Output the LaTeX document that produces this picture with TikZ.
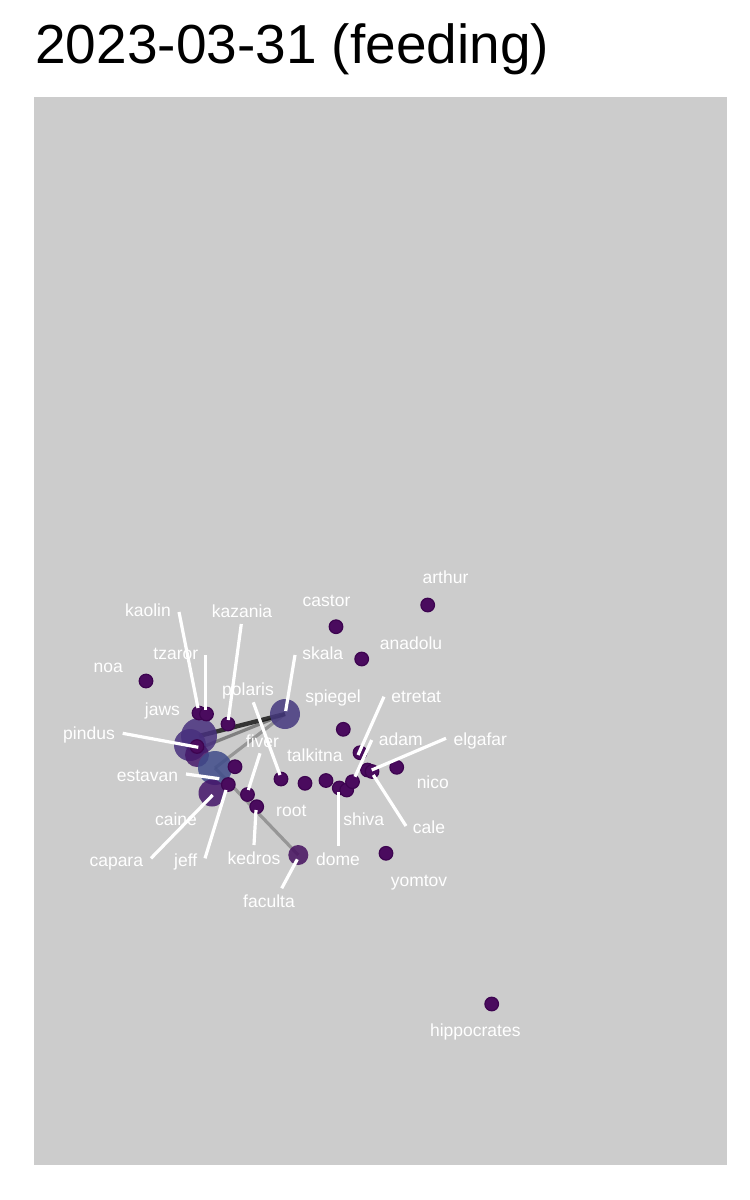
\documentclass[tikz,border=0pt]{standalone}
\usepackage{fontspec}
\setmainfont{Liberation Sans}
\definecolor{panelgray}{HTML}{CCCCCC}
\definecolor{nsmall}{HTML}{4A0B5E}
\definecolor{nsmallb}{HTML}{3D0450}
\definecolor{cpindus}{HTML}{48307E}
\definecolor{cpindusb}{HTML}{45196A}
\definecolor{cspiegel}{HTML}{46397F}
\definecolor{cestavan}{HTML}{3F4B8A}
\definecolor{ccaine}{HTML}{44156A}
\definecolor{cfaculta}{HTML}{46105F}
\tikzset{
  sm/.style={circle, fill=nsmall, draw=nsmallb, line width=0.6pt, minimum size=6.8pt, inner sep=0pt},
  bignode/.style 2 args={circle, fill=#1, fill opacity=0.85, draw=none, minimum size=#2, inner sep=0pt},
  lbl/.style={text=white, font=\fontsize{8.75}{10}\selectfont, anchor=base, inner sep=0pt},
  seg/.style={white, line width=1.6pt},
  edgedark/.style={black, opacity=0.75, line width=2.2pt},
  edgemid/.style={black!70, opacity=0.6, line width=1.6pt},
  edgelight/.style={black!55, opacity=0.6, line width=1.6pt}
}
\begin{document}
\begin{tikzpicture}[x=0.5pt,y=-0.5pt]
\useasboundingbox (0,0) rectangle (750,1200);
\fill[white] (0,0) rectangle (750,1200);
\fill[panelgray] (34,97) rectangle (727,1165);
\node[anchor=base west, inner sep=0pt, font=\fontsize{27.5}{32}\selectfont] (title) at (35,63) {2023-03-31 (feeding)};

% node coordinates
\coordinate (pSpiegel) at (285,714);
\coordinate (pPindus) at (199,736);
\coordinate (pPindus2) at (200,748);
\coordinate (pEstavan) at (215,768);
\coordinate (pFaculta) at (298.3,855);

% edges
\draw[edgelight] (pEstavan) -- (pFaculta);
\draw[edgelight] (pEstavan) -- (pSpiegel);
\draw[edgemid] (pPindus2) -- (pSpiegel);
\draw[edgedark] (pPindus) -- (pSpiegel);

% big nodes
\node[bignode={cspiegel}{15pt}] (spiegel) at (pSpiegel) {};
\node[bignode={cpindus}{18pt}] (pindusA) at (pPindus) {};
\node[bignode={cpindus}{16pt}] (pindusC) at (190,745) {};
\node[bignode={cpindusb}{12pt}] (pindusB) at (197,755) {};
\node[bignode={cestavan}{17pt}] (estavan) at (pEstavan) {};
\node[bignode={ccaine}{13.5pt}] (caine) at (212,793) {};
\node[bignode={cfaculta}{10pt}] (faculta) at (pFaculta) {};

% small nodes
\node[sm] (arthur) at (427.7,605) {};
\node[sm] (castor) at (336,626.7) {};
\node[sm] (anadolu) at (361.7,659) {};
\node[sm] (noa) at (146,681) {};
\node[sm] (kaolin) at (199,713) {};
\node[sm] (tzaror) at (206.5,714) {};
\node[sm] (kazania) at (228,724) {};
\node[sm] (nsp) at (343.3,729.3) {};
\node[sm] (etretat) at (360,752.7) {};
\node[sm] (pindus) at (197,746.5) {};
\node[sm] (ne1) at (235,766.7) {};
\node[sm] (jeff) at (228.3,784.5) {};
\node[sm] (fiver) at (247.5,794.5) {};
\node[sm] (kedros) at (256.7,806.7) {};
\node[sm] (polaris) at (281,779) {};
\node[sm] (nr1) at (305,783.3) {};
\node[sm] (nr2) at (326,780.5) {};
\node[sm] (dome) at (339.3,788) {};
\node[sm] (shiva) at (346.7,790) {};
\node[sm] (adam) at (352.5,781.7) {};
\node[sm] (elgafar) at (367.5,770) {};
\node[sm] (cale) at (372,771.5) {};
\node[sm] (nico) at (396.7,767.3) {};
\node[sm] (yomtov) at (386,853.3) {};
\node[sm] (hippocrates) at (491.7,1004) {};

% label segment start points
\coordinate (sKaolin) at (179,612);
\coordinate (sTzaror) at (205.7,655);
\coordinate (sKazania) at (241.3,624);
\coordinate (sSkala) at (295,655);
\coordinate (sPolaris) at (253.3,702.3);
\coordinate (sPindus) at (122.7,733.3);
\coordinate (sEstavan) at (186,774);
\coordinate (sFiver) at (260,753.3);
\coordinate (sCapara) at (151,858.3);
\coordinate (sJeff) at (205,858.3);
\coordinate (sKedros) at (254,845);
\coordinate (sFaculta) at (281.7,888.3);
\coordinate (sEtretat) at (384,696.7);
\coordinate (sAdam) at (371.7,740);
\coordinate (sElgafar) at (446,738.3);
\coordinate (sCale) at (406,826);
\coordinate (sDome) at (338.3,846);
% segment end points
\coordinate (eKaolin) at (198,708);
\coordinate (eTzaror) at (205.7,710);
\coordinate (eKazania) at (228.3,720);
\coordinate (eSkala) at (285.7,711);
\coordinate (ePolaris) at (280,775);
\coordinate (ePindus) at (198.3,747.3);
\coordinate (eEstavan) at (219.3,778.7);
\coordinate (eFiver) at (248.3,790);
\coordinate (eCapara) at (212.7,795);
\coordinate (eJeff) at (226,790);
\coordinate (eKedros) at (256,810);
\coordinate (eFaculta) at (297.3,859.3);
\coordinate (eEtretat) at (358,755);
\coordinate (eAdam) at (355,776.7);
\coordinate (eElgafar) at (371.7,770);
\coordinate (eCale) at (373.3,775);
\coordinate (eDome) at (338.3,791.7);

\foreach \n in {Kaolin,Tzaror,Kazania,Skala,Polaris,Pindus,Estavan,Fiver,Capara,Jeff,Kedros,Faculta,Etretat,Adam,Elgafar,Cale,Dome}
  \draw[seg] (s\n) -- (e\n);

% labels
\node[lbl] (Larthur) at (445.5,583) {arthur};
\node[lbl] (Lcastor) at (326.5,606.5) {castor};
\node[lbl] (Lanadolu) at (411,649.5) {anadolu};
\node[lbl] (Lskala) at (322.7,659.3) {skala};
\node[lbl] (Lspiegel) at (333,702) {spiegel};
\node[lbl] (Letretat) at (416.3,702.5) {etretat};
\node[lbl] (Ladam) at (400.8,745) {adam};
\node[lbl] (Lelgafar) at (480.3,745) {elgafar};
\node[lbl] (Ltalkitna) at (314.8,761.5) {talkitna};
\node[lbl] (Lnico) at (432.8,788.5) {nico};
\node[lbl] (Lshiva) at (363.7,825) {shiva};
\node[lbl] (Lcale) at (429,833) {cale};
\node[lbl] (Ldome) at (338,865) {dome};
\node[lbl] (Lyomtov) at (419,886) {yomtov};
\node[lbl] (Lhippocrates) at (475.3,1036) {hippocrates};
\node[lbl] (Lkaolin) at (148,616.7) {kaolin};
\node[lbl] (Lkazania) at (242,617.7) {kazania};
\node[lbl] (Ltzaror) at (175.8,659.3) {tzaror};
\node[lbl] (Lnoa) at (108.3,672.7) {noa};
\node[lbl] (Lpolaris) at (248,695) {polaris};
\node[lbl] (Ljaws) at (162.5,715.3) {jaws};
\node[lbl] (Lpindus) at (89,739) {pindus};
\node[lbl] (Lfiver) at (262.5,747.7) {fiver};
\node[lbl] (Lestavan) at (147.5,781) {estavan};
\node[lbl] (Lcaine) at (176,825) {caine};
\node[lbl] (Lroot) at (291.3,816.7) {root};
\node[lbl] (Lcapara) at (116.3,866.7) {capara};
\node[lbl] (Ljeff) at (185.7,866.5) {jeff};
\node[lbl] (Lkedros) at (254,864.3) {kedros};
\node[lbl] (Lfaculta) at (269,907.5) {faculta};
\end{tikzpicture}
\end{document}
